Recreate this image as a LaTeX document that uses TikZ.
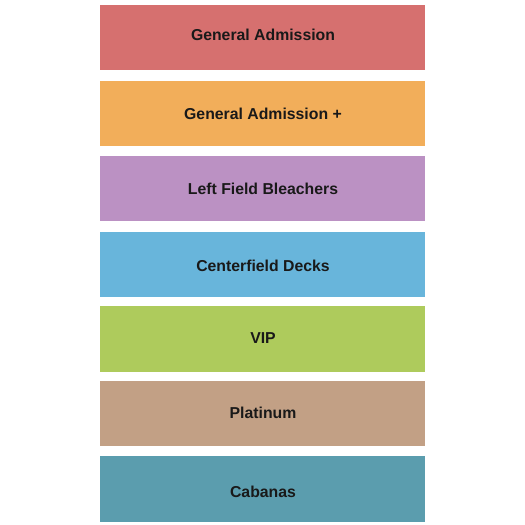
\documentclass[tikz,border=0pt]{standalone}
\usepackage{fontspec}
\setmainfont{Liberation Sans}
\definecolor{cGA}{HTML}{D6706F}
\definecolor{cGAP}{HTML}{F2AE5A}
\definecolor{cLFB}{HTML}{BB91C3}
\definecolor{cCD}{HTML}{68B5DB}
\definecolor{cVIP}{HTML}{AECB5C}
\definecolor{cPL}{HTML}{C2A085}
\definecolor{cCA}{HTML}{5B9DAE}
\begin{document}
\begin{tikzpicture}[x=1pt,y=-1pt,
  sec/.style={draw=none,fill=#1},
  lab/.style={font=\fontsize{15.8}{18}\selectfont\bfseries,text=black!90,inner sep=0pt,anchor=center}]
\useasboundingbox (0,0) rectangle (525,525);
\fill[white] (0,0) rectangle (525,525);
\path[sec=cGA] (100,5) rectangle (425,70);
\path[sec=cGAP] (100,81) rectangle (425,146);
\path[sec=cLFB] (100,156) rectangle (425,221);
\path[sec=cCD] (100,232) rectangle (425,297);
\path[sec=cVIP] (100,306) rectangle (425,371.5);
\path[sec=cPL] (100,381) rectangle (425,445.5);
\path[sec=cCA] (100,456) rectangle (425,521.5);
\node[lab] (t1) at (263,35) {General Admission};
\node[lab] (t2) at (263,114) {General Admission +};
\node[lab] (t3) at (263,189) {Left Field Bleachers};
\node[lab] (t4) at (263,266) {Centerfield Decks};
\node[lab] (t5) at (263,338) {VIP};
\node[lab] (t6) at (263,413) {Platinum};
\node[lab] (t7) at (263,492) {Cabanas};
\end{tikzpicture}
\end{document}
